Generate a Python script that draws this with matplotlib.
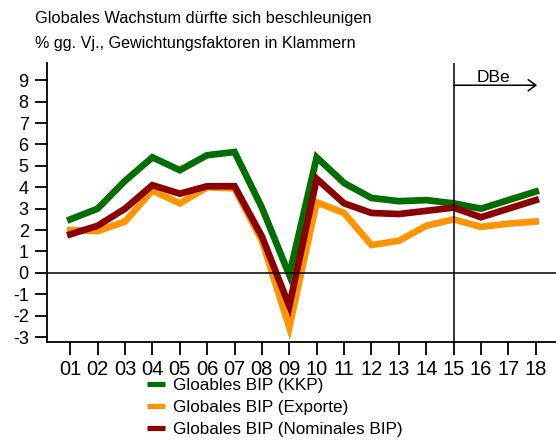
import matplotlib.pyplot as plt
from matplotlib.lines import Line2D

plt.rcParams['font.family'] = ['Liberation Sans', 'DejaVu Sans']

# Jahre (Kategorien) und Reihen
years = ["01", "02", "03", "04", "05", "06", "07", "08", "09",
         "10", "11", "12", "13", "14", "15", "16", "17", "18"]
bip_kkp = [2.5, 3.0, 4.3, 5.4, 4.8, 5.5, 5.65, 3.05, -0.1,
           5.4, 4.2, 3.5, 3.35, 3.4, 3.25, 3.0, 3.4, 3.8]
bip_exporte = [2.0, 1.95, 2.4, 3.85, 3.25, 4.0, 3.95, 1.5, -2.55,
               3.3, 2.8, 1.3, 1.5, 2.2, 2.5, 2.15, 2.3, 2.4]
bip_nominal = [1.8, 2.2, 3.0, 4.1, 3.7, 4.05, 4.05, 1.7, -1.55,
               4.4, 3.25, 2.8, 2.75, 2.9, 3.05, 2.6, 3.0, 3.4]
labels = ["Gloables BIP (KKP)", "Globales BIP (Exporte)", "Globales BIP (Nominales BIP)"]
colors = ["#006e00", "#ff9300", "#8b0000"]
y_ticks = list(range(-3, 10))
forecast_start = "15"

x = list(range(len(years)))

fig = plt.figure(figsize=(5.56, 4.45), dpi=100)
ax = fig.add_axes([0.084, 0.232, 0.916, 0.626])

for series, color in zip([bip_kkp, bip_exporte, bip_nominal], colors):
    ax.plot(x, series, color=color, lw=4.8, solid_joinstyle='miter')

ax.axhline(0, color='black', lw=1.1)
xf = years.index(forecast_start)
ax.axvline(xf, color='black', lw=1.1)

# Prognose-Pfeil
ax.annotate("", xy=(17.05, 8.77), xytext=(xf, 8.77),
            arrowprops=dict(arrowstyle='->, head_length=0.55, head_width=0.4',
                            color='black', lw=1.1, shrinkA=0, shrinkB=0))
ax.text(15.45, 8.8, "DBe", ha='center', va='bottom', fontsize=12.5)

ax.set_xlim(-0.86, 17.74)
ax.set_ylim(-3.22, 9.8)
ax.set_xticks(x)
ax.set_xticklabels(years, fontsize=14.5)
ax.set_yticks(y_ticks)
ax.set_yticklabels([str(v) for v in y_ticks], fontsize=13)

for side in ['top', 'right']:
    ax.spines[side].set_visible(False)
ax.spines['left'].set_linewidth(1.3)
ax.spines['bottom'].set_linewidth(1.3)
ax.tick_params(axis='x', length=9, width=1.3, pad=4)
ax.tick_params(axis='y', length=9, width=1.3, pad=4)

fig.text(0.063, 0.949, "Globales Wachstum dürfte sich beschleunigen",
         fontsize=11.8, va='baseline')
fig.text(0.063, 0.893, "% gg. Vj., Gewichtungsfaktoren in Klammern",
         fontsize=11.6, va='baseline')

handles = [Line2D([], [], color=c, lw=3.7, solid_capstyle='butt') for c in colors]
fig.legend(handles, labels, loc='upper left', bbox_to_anchor=(0.264, 0.1515),
           frameon=False, fontsize=12.3, handlelength=1.08, handletextpad=0.46,
           labelspacing=0.41, borderpad=0, borderaxespad=0)

fig.savefig("out.png", dpi=100)
